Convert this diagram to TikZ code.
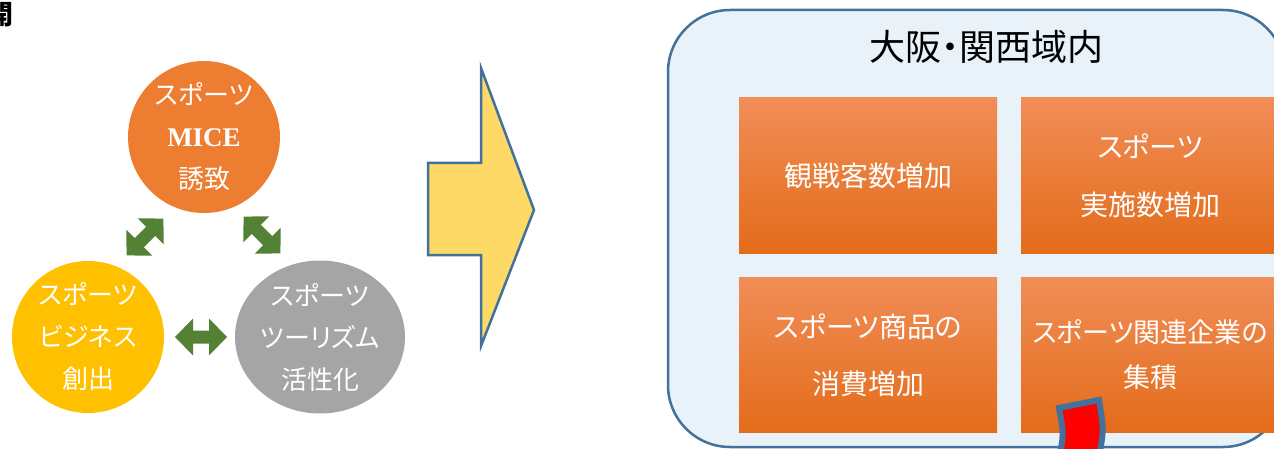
\documentclass[tikz,border=0pt]{standalone}
\usepackage{fontspec}
\setmainfont{Noto Sans CJK JP}[RawFeature={+palt}]
\newfontfamily\micefont{Liberation Serif}
\usetikzlibrary{shapes.geometric}
\definecolor{cOrange}{HTML}{ED7D31}
\definecolor{cYellow}{HTML}{FFC000}
\definecolor{cGray}{HTML}{A5A5A5}
\definecolor{cGreen}{HTML}{548235}
\definecolor{cArrow}{HTML}{FFD966}
\definecolor{cBlue}{HTML}{41719C}
\definecolor{cPale}{HTML}{E9F1F9}
\definecolor{cBoxTop}{HTML}{F18D57}
\definecolor{cBoxBot}{HTML}{E36C1A}
\definecolor{cRed}{HTML}{FF0000}
\tikzset{
  bubble/.style={circle, minimum size=152pt, inner sep=0pt, text=white, align=center,
    font=\fontsize{26}{42}\selectfont},
  effbox/.style={rectangle, minimum width=258pt, minimum height=155pt, inner sep=0pt,
    top color=cBoxTop, bottom color=cBoxBot, text=white, align=center},
  greenarrow/.style={fill=cGreen, draw=none},
}
\begin{document}
\begin{tikzpicture}[x=1pt,y=-1pt]
\useasboundingbox (0,0) rectangle (1274,449);
\clip (0,0) rectangle (1274,449);
% partial heading
\node[anchor=east, inner sep=0pt, font=\fontsize{27}{30}\selectfont\bfseries] (head) at (14,15) {開};
% three circles
\node[bubble, fill=cOrange] (mice) at (204,137) {スポーツ\\{\micefont\bfseries\fontsize{27}{42}\selectfont MICE}\\誘致};
\node[bubble, fill=cYellow] (biz) at (88,337) {スポーツ\\ビジネス\\創出};
\node[bubble, ellipse, fill=cGray, minimum width=170pt, minimum height=153pt] (tour) at (320,337) {スポーツ\\ツーリズム\\活性化};
% green double arrows
\foreach \cx/\cy/\ang in {145/237/45, 262/235/-45, 201/337/0}{
  \fill[greenarrow, shift={(\cx,\cy)}, rotate=\ang]
    (-26,0) -- (-8,18.5) -- (-8,6.5) -- (8,6.5) -- (8,18.5) -- (26,0)
    -- (8,-18.5) -- (8,-6.5) -- (-8,-6.5) -- (-8,-18.5) -- cycle;
}
% big arrow
\draw[fill=cArrow, draw=cBlue, line width=2.5pt, line join=miter]
  (428,163) -- (481,163) -- (481,68) -- (534,210) -- (481,346) -- (481,255) -- (428,255) -- cycle;
% container
\node[draw=cBlue, fill=cPale, line width=2.5pt, rounded corners=62pt, minimum width=617pt,
  minimum height=437pt, inner sep=0pt] (area) at (976.5,228.5) {};
\node[font=\fontsize{36}{40}\selectfont, text=black] (title) at (986,47) {大阪・関西域内};
% four boxes
\node[effbox, font=\fontsize{28}{58}\selectfont] (b1) at (868,175.5) {観戦客数増加};
\node[effbox, font=\fontsize{28}{58}\selectfont] (b2) at (1150,175.5) {スポーツ\\実施数増加};
\node[effbox, font=\fontsize{28}{57}\selectfont] (b3) at (868,355) {スポーツ商品の\\消費増加};
\node[effbox, font=\fontsize{27}{45}\selectfont] (b4) at (1150,355) {スポーツ関連企業の\\集積};
% red marker
\draw[fill=cRed, draw=cBlue, line width=6pt]
  (1058,462) .. controls (1064,435) .. (1059,408) -- (1099,400)
  .. controls (1104,430) .. (1098,462) -- cycle;
\end{tikzpicture}
\end{document}
